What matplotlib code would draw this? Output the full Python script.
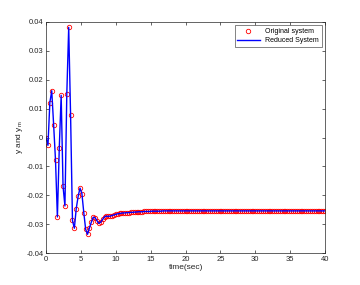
import matplotlib
matplotlib.use('Agg')
import matplotlib.pyplot as plt
import numpy as np

plt.rcParams['font.family'] = ['Liberation Sans', 'DejaVu Sans']
plt.rcParams['mathtext.fontset'] = 'custom'
plt.rcParams['mathtext.rm'] = 'Liberation Sans'
plt.rcParams['mathtext.it'] = 'Liberation Sans'

# sample grid (149 samples over 0..40 s)
t_start, t_end, n_samples = 0.0, 40.0, 149

# response values
y_head = [0.0000, -0.0027, 0.0121, 0.0162, 0.0045, -0.0079, -0.0275, -0.0036,
          0.0146, -0.0169, -0.0237, 0.0152, 0.0381, 0.0077, -0.0287, -0.0314,
          -0.0246, -0.0204, -0.0175, -0.0194, -0.0260, -0.0318, -0.0335, -0.0313,
          -0.0293, -0.0276, -0.0278, -0.0288, -0.0297, -0.0293, -0.0283, -0.0275,
          -0.0272, -0.0273, -0.0272, -0.0270, -0.0268, -0.0266, -0.0264, -0.0263,
          -0.0262, -0.0261, -0.0261, -0.0260, -0.0260, -0.0259, -0.0259]
y_tail = [-0.0258, -0.0258, -0.0257, -0.0257, -0.0257, -0.0256, -0.0256, -0.0256,
          -0.0256, -0.0255, -0.0255, -0.0255, -0.0255, -0.0255, -0.0255, -0.0254,
          -0.0254, -0.0254, -0.0254, -0.0254, -0.0254, -0.0254, -0.0254, -0.0254,
          -0.0254, -0.0254, -0.0254, -0.0254, -0.0254, -0.0254, -0.0254, -0.0254,
          -0.0254, -0.0254, -0.0254, -0.0254, -0.0254, -0.0254, -0.0254, -0.0254,
          -0.0254, -0.0254, -0.0254, -0.0254, -0.0254, -0.0254, -0.0254, -0.0254,
          -0.0254, -0.0254, -0.0254, -0.0254, -0.0254, -0.0254, -0.0254, -0.0254,
          -0.0254, -0.0254, -0.0254, -0.0254, -0.0254, -0.0254, -0.0254, -0.0254,
          -0.0254, -0.0254, -0.0254, -0.0254, -0.0254, -0.0254, -0.0254, -0.0254,
          -0.0254, -0.0254, -0.0254, -0.0254, -0.0254, -0.0254, -0.0254, -0.0254,
          -0.0254, -0.0254, -0.0254, -0.0254, -0.0254, -0.0254, -0.0254, -0.0254,
          -0.0254, -0.0254, -0.0254, -0.0254, -0.0254, -0.0254, -0.0254, -0.0254,
          -0.0254, -0.0254, -0.0254, -0.0254, -0.0254, -0.0254]
x_ticks = [0, 5, 10, 15, 20, 25, 30, 35, 40]
y_ticks = [-0.04, -0.03, -0.02, -0.01, 0, 0.01, 0.02, 0.03, 0.04]
y_ticklabels = ['-0.04', '-0.03', '-0.02', '-0.01', '0', '0.01', '0.02', '0.03', '0.04']

t = np.linspace(t_start, t_end, n_samples)
y = np.array(y_head + y_tail)

axis_col = '#262626'
fig = plt.figure(figsize=(3.6, 2.85), dpi=100)
ax = fig.add_axes([0.128, 0.112, 0.775, 0.811])

ax.plot(t, y, 'o', mfc='none', mec='red', ms=3.2, mew=0.6, label='Original system')
ax.plot(t, y, '-', color='blue', lw=1.0, label='Reduced System')

ax.set_xlim(0, 40)
ax.set_ylim(-0.04, 0.04)
ax.set_xticks(x_ticks)
ax.set_yticks(y_ticks)
ax.set_yticklabels(y_ticklabels)
ax.tick_params(direction='in', length=2.5, width=0.5, labelsize=5.5,
               top=True, right=True, colors=axis_col, pad=2)
for s in ax.spines.values():
    s.set_linewidth(0.5)
    s.set_color(axis_col)

ax.set_xlabel('time(sec)', fontsize=6, color=axis_col, labelpad=1)
ax.set_ylabel('y and y$_m$', fontsize=6, color=axis_col, labelpad=1)

leg = ax.legend(loc='upper right', fontsize=5, frameon=True, fancybox=False,
                edgecolor=axis_col, handlelength=3.2, borderpad=0.4,
                borderaxespad=0.5, labelspacing=0.3)
leg.get_frame().set_linewidth(0.5)

plt.savefig('out.png', dpi=100)
plt.close()
